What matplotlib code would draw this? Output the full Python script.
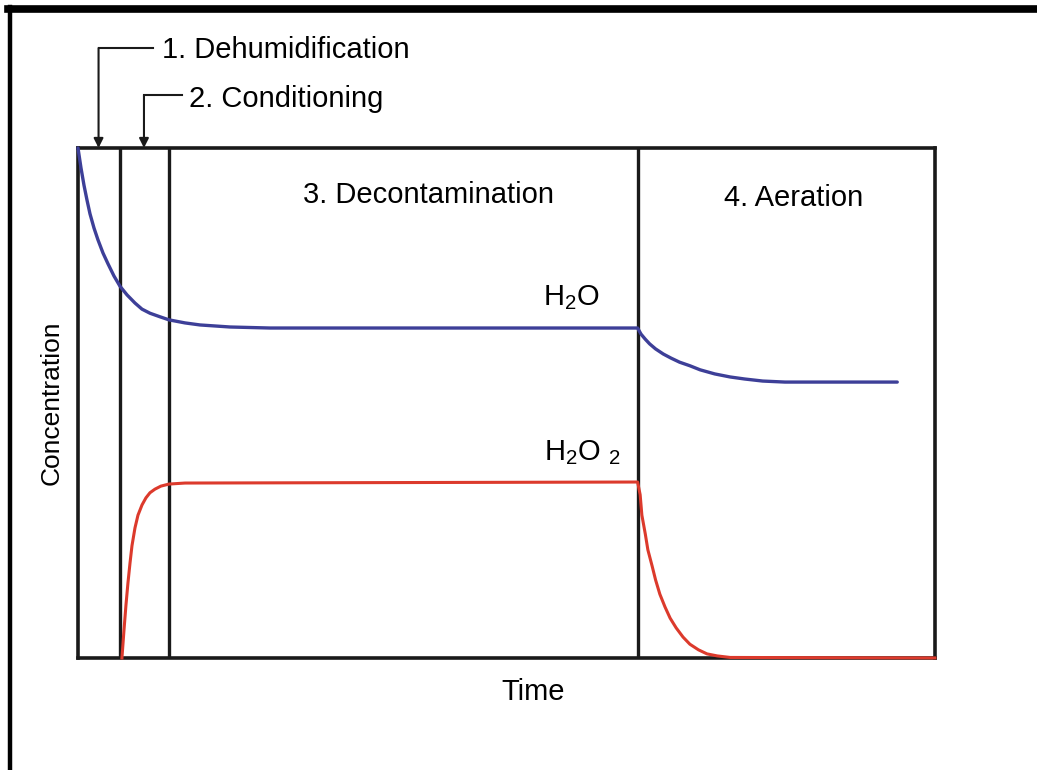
import numpy as np
import matplotlib
matplotlib.use("Agg")
import matplotlib.pyplot as plt
from matplotlib.lines import Line2D

plt.rcParams['font.family'] = ['Liberation Sans', 'DejaVu Sans']
plt.rcParams['mathtext.fontset'] = 'custom'
plt.rcParams['mathtext.rm'] = 'Liberation Sans'
plt.rcParams['mathtext.it'] = 'Liberation Sans'

# curves (time and concentration in arbitrary units, 0-100)
h2o_t = [0, 0.35, 0.7, 1.05, 1.4, 1.87, 2.33, 2.92, 3.5, 4.2, 4.9, 5.72, 6.65,
         7.47, 8.4, 9.57, 10.62, 12.49, 14.24, 17.74, 22.4, 65.3,
         65.7, 66.2, 66.7, 67.4, 68.3, 69.2, 70.2, 71.4, 72.6, 74.3, 76.1,
         77.8, 79.9, 82.5, 95.6]
h2o_c = [100, 96.1, 92.7, 89.8, 87.1, 84.3, 82.0, 79.4, 77.3, 74.9, 72.9, 71.2,
         69.6, 68.4, 67.6, 66.9, 66.3, 65.7, 65.3, 64.9, 64.7, 64.7,
         63.5, 62.5, 61.6, 60.6, 59.6, 58.8, 58.0, 57.3, 56.5, 55.7, 55.1,
         54.7, 54.3, 54.1, 54.1]

h2o2_t = [5.13, 5.37, 5.6, 5.83, 6.07, 6.3, 6.65, 7.0, 7.47, 7.93, 8.4, 8.98,
          9.68, 10.62, 12.49, 65.3,
          65.6, 65.8, 66.2, 66.5, 67.0, 67.4, 67.9, 68.5, 69.1, 69.8, 70.6,
          71.4, 72.4, 73.4, 74.6, 76.1, 100]
h2o2_c = [0, 5.5, 10.4, 14.7, 18.6, 22.0, 25.5, 28.0, 30.0, 31.4, 32.4, 33.1,
          33.7, 34.1, 34.3, 34.5,
          32.0, 28.0, 24.3, 21.2, 18.0, 15.3, 12.5, 10.0, 7.8, 5.9, 4.1,
          2.7, 1.6, 0.8, 0.4, 0.1, 0]

phase_bounds = [4.9, 10.6, 65.3]
phase_labels = ["1. Dehumidification", "2. Conditioning",
                "3. Decontamination", "4. Aeration"]

fig = plt.figure(figsize=(10.37, 7.70), dpi=100)
ax = fig.add_axes([0.0752, 0.1455, 0.8264, 0.6623])
ax.set_xlim(0, 100)
ax.set_ylim(0, 100)
ax.set_xticks([])
ax.set_yticks([])
for s in ax.spines.values():
    s.set_linewidth(2.6)
    s.set_color('#1a1a1a')

for b in phase_bounds:
    ax.axvline(b, color='#1a1a1a', lw=2.4, zorder=1)

ax.plot(h2o_t, h2o_c, color='#3d3f98', lw=2.4, clip_on=False, zorder=3,
        solid_joinstyle='round', solid_capstyle='round')
ax.plot(h2o2_t, h2o2_c, color='#dc3a2c', lw=2.2, clip_on=False, zorder=3,
        solid_joinstyle='round')

fs = 21
# axis titles (Time sits a bit right of centre in the original)
ax.text(53.1, -6.7, "Time", fontsize=fs, ha='center', va='center')
ax.set_ylabel("Concentration", fontsize=19, labelpad=10)

ax.text(26.3, 90.7, phase_labels[2], fontsize=fs, ha='left', va='center')
ax.text(75.4, 90.2, phase_labels[3], fontsize=fs, ha='left', va='center')
ax.text(57.6, 70.6, r"H$_2$O", fontsize=fs, ha='center', va='center')
ax.text(58.8, 40.2, r"H$_2$O $_2$", fontsize=fs, ha='center', va='center')

# phase 1 and 2 call-outs above the frame
ax.annotate("", xy=(2.4, 100), xytext=(2.4, 119.6),
            arrowprops=dict(arrowstyle='-|>', color='#1a1a1a', lw=1.5,
                            mutation_scale=14, shrinkA=0, shrinkB=0),
            annotation_clip=False)
ax.plot([2.4, 8.7], [119.6, 119.6], color='#1a1a1a', lw=1.5, clip_on=False)
ax.text(9.8, 119.3, phase_labels[0], fontsize=fs, ha='left', va='center')

ax.annotate("", xy=(7.7, 100), xytext=(7.7, 110.3),
            arrowprops=dict(arrowstyle='-|>', color='#1a1a1a', lw=1.5,
                            mutation_scale=14, shrinkA=0, shrinkB=0),
            annotation_clip=False)
ax.plot([7.7, 12.1], [110.3, 110.3], color='#1a1a1a', lw=1.5, clip_on=False)
ax.text(13.0, 109.6, phase_labels[1], fontsize=fs, ha='left', va='center')

# page frame on top and left
fig.add_artist(Line2D([0.008, 1.0], [0.988, 0.988], color='black', lw=5.5))
fig.add_artist(Line2D([0.0097, 0.0097], [0.0, 0.991], color='black', lw=3.2))

fig.savefig("out.png", dpi=100)
